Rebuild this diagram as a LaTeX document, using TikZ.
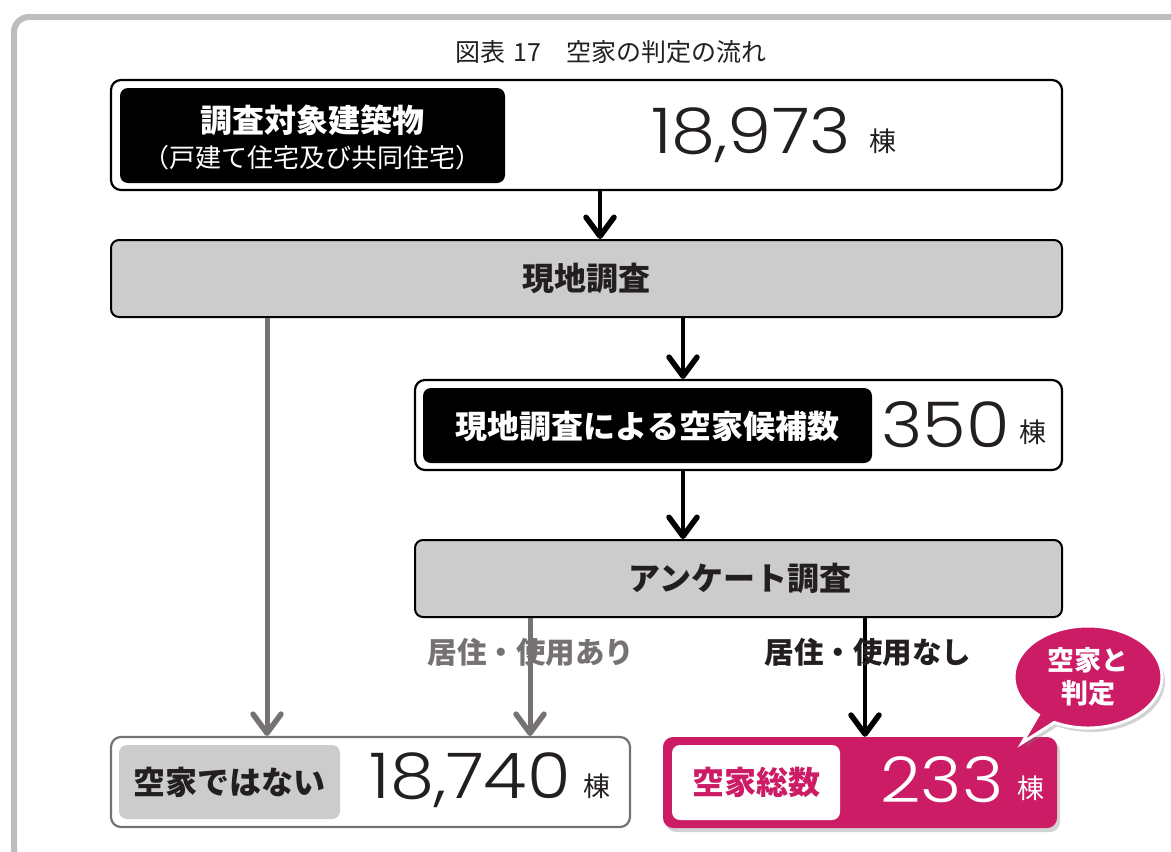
\documentclass[tikz,border=0pt]{standalone}
\usepackage{fontspec}
\setmainfont{Noto Sans CJK JP}
\newfontfamily\numfont{Poppins Light}[FakeStretch=1.12]
\usetikzlibrary{arrows.meta,shapes.callouts,shadows}
\definecolor{mag}{HTML}{CC1C66}
\definecolor{boxgray}{HTML}{CCCCCC}
\definecolor{arrgray}{HTML}{767272}
\definecolor{framegray}{HTML}{BDBDBD}
\definecolor{ink}{HTML}{231F20}
\tikzset{
  outerbox/.style={draw=black, line width=2.2pt, rounded corners=10pt, fill=white, inner sep=0pt},
  darkbox/.style={fill=black, rounded corners=8pt, inner sep=0pt},
  graybox/.style={draw=black, line width=2pt, rounded corners=8pt, fill=boxgray, inner sep=0pt},
  blkarrow/.style={line width=4pt, draw=black, -{Straight Barb[length=19pt,width=28pt,line width=5.5pt,round]}},
  gryarrow/.style={line width=5pt, draw=arrgray, -{Straight Barb[length=19pt,width=28pt,line width=5.5pt,round]}},
  lbl/.style={inner sep=0pt, font=\bfseries\fontsize{32}{36}\selectfont, text=ink},
  num/.style={inner sep=0pt, font=\numfont\fontsize{63}{70}\selectfont, text=ink},
  unit/.style={inner sep=0pt, font=\fontsize{27}{30}\selectfont, text=ink},
  cond/.style={inner sep=0pt, font=\bfseries\fontsize{29.5}{32}\selectfont},
}
\begin{document}
\begin{tikzpicture}[x=1pt,y=-1pt]
\useasboundingbox (0,0) rectangle (1171,852);
\begin{scope}
\clip (0,0) rectangle (1171,852);
\draw[framegray, line width=6pt, rounded corners=15pt] (14,900) -- (14,17) -- (1200,17);
\end{scope}
% title
\node[inner sep=0pt, font=\fontsize{25}{28}\selectfont, text=ink] (title) at (611,52) {図表\hspace{8pt}17\hspace{26pt}空家の判定の流れ};
% box 1
\node[outerbox, minimum width=951pt, minimum height=110pt] (b1) at (586.5,135) {};
\node[darkbox, minimum width=385pt, minimum height=95pt] (b1i) at (312.5,135.5) {};
\node[lbl, text=white] (b1t) at (312.5,120) {調査対象建築物};
\node[inner sep=0pt, font=\fontsize{26}{28}\selectfont, text=white] (b1s) at (312.5,158) {（戸建て住宅及び共同住宅）};
\node[num] (n1) at (751,135) {18,973};
\node[unit] (u1) at (883,141) {棟};
% box 2
\node[graybox, minimum width=951pt, minimum height=77pt] (b2) at (586.5,278.5) {};
\node[lbl] (b2t) at (586.5,278) {現地調査};
% box 3
\node[outerbox, minimum width=647pt, minimum height=90pt] (b3) at (738.5,425) {};
\node[darkbox, minimum width=449pt, minimum height=75pt] (b3i) at (647.5,425.5) {};
\node[lbl, text=white] (b3t) at (647.5,426) {現地調査による空家候補数};
\node[num] (n3) at (945.5,425) {350};
\node[unit] (u3) at (1033,432) {棟};
% box 4
\node[graybox, minimum width=647pt, minimum height=77pt] (b4) at (738.5,578.5) {};
\node[lbl] (b4t) at (740,578) {アンケート調査};
% box 5
\node[outerbox, draw=arrgray, minimum width=519pt, minimum height=90pt] (b5) at (370.5,782) {};
\node[darkbox, fill=boxgray, minimum width=221pt, minimum height=74pt] (b5i) at (229.5,782) {};
\node[lbl] (b5t) at (229.5,782) {空家ではない};
\node[num] (n5) at (470,780) {18,740};
\node[unit] (u5) at (597,786) {棟};
% box 6
\node[fill=mag, rounded corners=10pt, inner sep=0pt, minimum width=394pt, minimum height=91pt,
  drop shadow={opacity=0.35, shadow xshift=3pt, shadow yshift=-4pt}] (b6) at (860,782.5) {};
\node[darkbox, fill=white, minimum width=168pt, minimum height=75pt] (b6i) at (756,782.5) {};
\node[lbl, text=mag] (b6t) at (756,782) {空家総数};
\node[num, text=white] (n6) at (942,780) {233};
\node[unit, text=white] (u6) at (1031,788) {棟};
% bubble
\node[ellipse callout, fill=mag, draw=white, line width=3pt, minimum width=148pt, minimum height=102pt,
  callout absolute pointer={(1022,743)}, inner sep=0pt,
  drop shadow={opacity=0.35, shadow xshift=3pt, shadow yshift=-4pt},
  text=white, font=\bfseries\fontsize{27}{33}\selectfont, align=center] (bub) at (1088,677) {空家と\\判定};
% connectors
\coordinate (x600) at (600,0);
\coordinate (x683) at (683,0);
\coordinate (x267) at (267,0);
\coordinate (x530) at (530,0);
\coordinate (x865) at (865,0);
\draw[blkarrow] (b1.south -| x600) -- (b2.north -| x600);
\draw[blkarrow] (b2.south -| x683) -- (b3.north -| x683);
\draw[blkarrow] (b3.south -| x683) -- (b4.north -| x683);
\draw[gryarrow] (b2.south -| x267) -- (b5.north -| x267);
\draw[gryarrow] (b4.south -| x530) -- (b5.north -| x530);
\draw[blkarrow] (b4.south -| x865) -- (b6.north -| x865);
\node[cond, text=arrgray] (c1) at (531,652) {居住・使用あり};
\node[cond, text=ink] (c2) at (868,652) {居住・使用なし};
\end{tikzpicture}
\end{document}
